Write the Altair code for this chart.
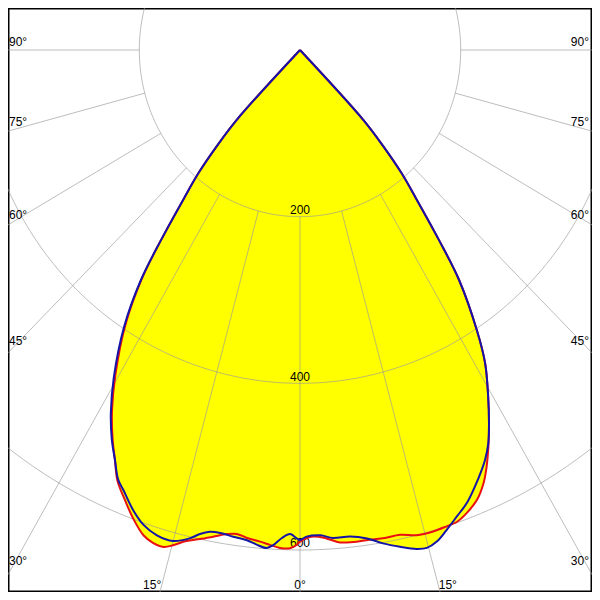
import altair as alt
import pandas as pd
import numpy as np

# ---- data (angle from nadir in degrees, negative = left half; intensity in cd)
blue_angle = [-45, -43.2, -41.9, -40.55, -38.97, -37.18, -35.64, -33.38, -30.54, -28.4,
              -26.6, -25.1, -23.7, -22.6, -20.6, -18.9, -17.0, -15.0, -13.2, -12.1,
              -11.0, -9.7, -8.1, -6.4, -5.2, -4.0, -3.2, -2.2, -1.2, -0.4,
              0, 0.8, 2.5, 4.0, 6.1, 8.1, 9.9, 11.8, 13.6, 14.8,
              16.1, 17.6, 19.2, 20.9, 22.6, 24.2, 25.1, 26.4, 27.7, 29.4,
              31.5, 33.2, 35.64, 37.18, 38.97, 40.55, 41.9, 43.2, 45]
blue_cd = [0, 115, 155, 194, 231, 286, 340, 398, 456, 495,
           523, 543, 563, 572, 590, 602, 609, 610, 602, 594,
           589, 588, 590, 592, 596, 599, 595, 586, 581, 586,
           588, 584, 583, 587, 587, 592, 601, 609, 616, 618,
           614, 604, 593, 582, 567, 552, 543, 527, 506, 477,
           441, 402, 340, 286, 231, 194, 155, 115, 0]

red_angle = [-45, -43.2, -41.9, -40.55, -38.97, -37.18, -35.64, -33.38, -30.54, -28.4,
             -26.6, -25.1, -23.7, -22.0, -20.3, -18.5, -17.2, -15.9, -14.9, -13.5,
             -12.0, -10.5, -8.9, -7.7, -6.5, -4.8, -3.6, -2.4, -1.2, -0.4,
             0, 1.6, 3.2, 4.8, 6.4, 8.0, 10.0, 12.1, 14.0, 16.0,
             17.7, 19.0, 20.5, 22.2, 23.7, 24.8, 26.2, 27.7, 29.4, 31.5,
             33.2, 35.64, 37.18, 38.97, 40.55, 41.9, 43.2, 45]
red_cd = [0, 115, 155, 194, 231, 286, 338, 395, 452, 492,
          521, 543, 565, 582, 599, 614, 619, 620, 615, 606,
          600, 594, 588, 586, 589, 592, 595, 598, 598, 594,
          590, 584, 587, 593, 594, 594, 595, 595, 600, 601,
          600, 599, 593, 583, 568, 553, 531, 506, 477, 441,
          402, 340, 286, 231, 194, 155, 115, 0]

ring_values = [200, 400, 600, 800]
ring_labels = ["200", "400", "600"]
spoke_step = 15
side_label_angles = [90, 75, 60, 45, 30]
bottom_label_angles = [-15, 0, 15]

# ---- geometry helpers
def curve_df(angles, cds):
    return pd.DataFrame({"angle": angles, "cd": cds, "i": range(len(angles))})

rows = []
for r in ring_values:
    for k, t in enumerate(np.arange(-180, 180.5, 1.0)):
        rows.append({"angle": float(t), "cd": float(r), "grp": f"ring{r}", "i": k})
rings = pd.DataFrame(rows)

rows = []
for a in range(-180, 181, spoke_step):
    rows.append({"angle": float(a), "cd": 200.0, "grp": f"sp{a}", "i": 0})
    rows.append({"angle": float(a), "cd": 1000.0, "grp": f"sp{a}", "i": 1})
spokes = pd.DataFrame(rows)

# label placement (layout)
lab = []
for a in side_label_angles:
    cot = np.cos(np.radians(a)) / np.sin(np.radians(a))
    yy = -9.6 + 359.3 * cot
    lab.append({"x": -350.9, "y": yy, "text": f"{a}°"})
    lab.append({"x": 348.4, "y": yy, "text": f"{a}°"})
yb = 642.0
for a in bottom_label_angles:
    xx = np.sign(a) * (645.6 * np.tan(np.radians(abs(a))) + 11)
    lab.append({"x": float(xx), "y": yb, "text": f"{abs(a)}°"})
for r, t in zip(ring_values, ring_labels):
    lab.append({"x": 0.0, "y": r - 8.0, "text": t})
labels = pd.DataFrame(lab)

xs = alt.Scale(domain=[-363.4, 363.4], nice=False, zero=False)
ys = alt.Scale(domain=[-50.4, 650.4], nice=False, zero=False, reverse=True)

def polar(chart):
    return chart.transform_calculate(
        x="datum.cd * sin(datum.angle * PI / 180)",
        y="datum.cd * cos(datum.angle * PI / 180)",
    )

def enc(chart, detail=None):
    kw = dict(
        x=alt.X("x:Q", scale=xs, axis=None),
        y=alt.Y("y:Q", scale=ys, axis=None),
        order=alt.Order("i:Q"),
    )
    if detail:
        kw["detail"] = alt.Detail(detail)
    return chart.encode(**kw)

fill_red = enc(polar(alt.Chart(curve_df(red_angle, red_cd)).mark_line(
    fill="#ffff00", strokeOpacity=0, clip=True, interpolate="catmull-rom")))
fill_blue = enc(polar(alt.Chart(curve_df(blue_angle, blue_cd)).mark_line(
    fill="#ffff00", strokeOpacity=0, clip=True, interpolate="catmull-rom")))

grid_rings = enc(polar(alt.Chart(rings).mark_line(
    color="#9a9a9a", opacity=0.65, strokeWidth=1, clip=True)), "grp:N")
grid_spokes = enc(polar(alt.Chart(spokes).mark_line(
    color="#9a9a9a", opacity=0.65, strokeWidth=1, clip=True)), "grp:N")

text = alt.Chart(labels).mark_text(
    font="Liberation Sans", fontSize=12, color="black", align="center", baseline="middle"
).encode(
    x=alt.X("x:Q", scale=xs, axis=None),
    y=alt.Y("y:Q", scale=ys, axis=None),
    text="text:N",
)

red_line = enc(polar(alt.Chart(curve_df(red_angle, red_cd)).mark_line(
    color="#e81010", strokeWidth=2, clip=True, interpolate="catmull-rom")))
blue_line = enc(polar(alt.Chart(curve_df(blue_angle, blue_cd)).mark_line(
    color="#1414a8", strokeWidth=2, clip=True, interpolate="catmull-rom")))

chart = alt.layer(
    fill_red, fill_blue, grid_rings, grid_spokes, text, red_line, blue_line
).properties(
    width=584, height=584, padding=0, autosize=alt.AutoSizeParams(type="none")
).configure_view(stroke="black", strokeWidth=3)

chart.save("out.html", embed_options={"renderer": "svg", "actions": False})
